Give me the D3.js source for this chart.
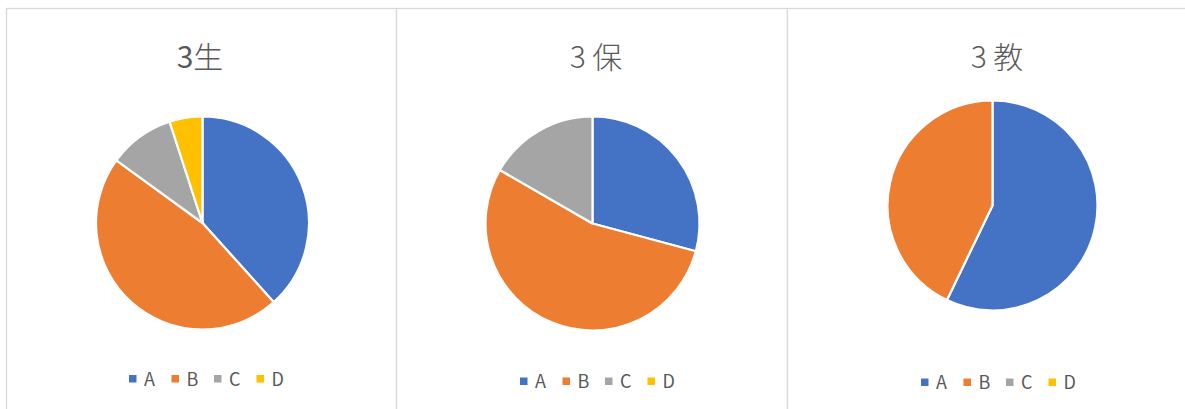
<!DOCTYPE html>
<html><head><meta charset="utf-8">
<script src="https://cdn.jsdelivr.net/npm/d3@7"></script>
<style>body{margin:0;background:#fff}svg{display:block}</style>
</head><body>
<svg id="c" width="1185" height="409"></svg>
<script>
const categories = ["A","B","C","D"];
const titles = ["3生","3 保","3 教"];
const values3sei = [23,28,6,3];
const values3ho = [7,13,4,0];
const values3kyo = [4,3,0,0];
const colors = ["#4472C4","#ED7D31","#A5A5A5","#FFC000"];

const seriesList = [values3sei, values3ho, values3kyo];
const panels = [
  {x:6.5, w:390, cx:202.5, cy:223, r:106.5, tx:200, ty:68, lx:129, ly:375, lb:385.5},
  {x:396.5, w:391, cx:592.5, cy:223.5, r:107, tx:596, ty:68, lx:520, ly:377.5, lb:388},
  {x:787.5, w:410, cx:992.5, cy:205.5, r:105, tx:997, ty:68, lx:921, ly:378.5, lb:389}
];

const svg = d3.select("#c");
const color = d3.scaleOrdinal().domain(categories).range(colors);
const pie = d3.pie().sort(null).value(d=>d.v);

panels.forEach((p,i)=>{
  const g = svg.append("g");
  g.append("rect").attr("x",p.x).attr("y",8.5).attr("width",p.w).attr("height",420)
    .attr("fill","#fff").attr("stroke","#d9d9d9").attr("stroke-width",1.3);
  const t = g.append("text").attr("x",p.tx).attr("y",p.ty).attr("text-anchor","middle")
    .attr("fill","#595959").attr("font-family","'Noto Sans CJK JP','Noto Sans',sans-serif")
    .attr("font-size",30).attr("font-weight",300);
  if (i === 0) {
    t.append("tspan").attr("font-weight",400).text(titles[i].slice(0,1));
    t.append("tspan").text(titles[i].slice(1));
  } else {
    t.text(titles[i]);
  }
  const data = categories.map((c,j)=>({c, v:seriesList[i][j]}));
  const arc = d3.arc().innerRadius(0).outerRadius(p.r);
  g.append("g").attr("transform",`translate(${p.cx},${p.cy})`)
    .selectAll("path").data(pie(data).filter(d=>d.data.v>0)).join("path")
    .attr("d",arc).attr("fill",d=>color(d.data.c))
    .attr("stroke","#fff").attr("stroke-width",2.2).attr("stroke-linejoin","round");
  const lg = g.append("g");
  categories.forEach((c,j)=>{
    const x0 = p.lx + j*42.5;
    lg.append("rect").attr("x",x0).attr("y",p.ly).attr("width",7.5).attr("height",7.5).attr("fill",color(c));
    lg.append("text").attr("x",x0+15).attr("y",p.lb).attr("fill","#595959")
      .attr("font-family","'Noto Sans CJK JP','Noto Sans',sans-serif").attr("font-size",18).text(c);
  });
});
</script>
</body></html>
